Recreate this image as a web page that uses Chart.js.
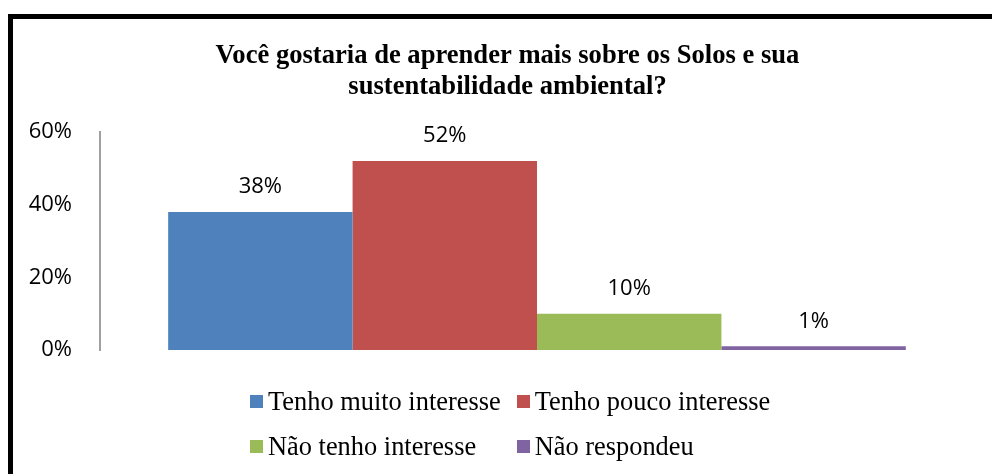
<!DOCTYPE html>
<html>
<head>
<meta charset="utf-8">
<script src="https://cdn.jsdelivr.net/npm/chart.js@4.4.1/dist/chart.umd.min.js"></script>
<style>
  html, body { margin: 0; padding: 0; background: #fff; overflow: hidden; width: 992px; height: 474px; }
  #frame { position: absolute; left: 8px; top: 14px; width: 1000px; height: 480px; border: 5px solid #000; box-sizing: border-box; }
  #wrap { position: absolute; left: 13px; top: 19px; width: 989px; height: 455px; }
  #legend { position: absolute; left: 250px; top: 386px; display: grid; grid-template-columns: auto auto; column-gap: 16px; row-gap: 15px;
            font-family: "Liberation Serif", "Times New Roman", serif; font-size: 26.4px; line-height: 30px; color: #000; }
  #legend .item { display: flex; align-items: center; white-space: nowrap; }
  #legend .box { width: 13px; height: 13px; margin-right: 5px; }
</style>
</head>
<body>
<div id="frame"></div>
<div id="wrap"><canvas id="chart"></canvas></div>
<div id="legend"></div>
<script>
const categories = [''];
const seriesNames = ['Tenho muito interesse', 'Tenho pouco interesse', 'Não tenho interesse', 'Não respondeu'];
const seriesValues = [38, 52, 10, 1];
const seriesColors = ['#4F81BD', '#C0504D', '#9BBB59', '#8064A2'];
const yTicks = [0, 20, 40, 60];

const tickFont = '22px "Open Sans", sans-serif';

// widest tick label, so the mirrored labels can sit right-aligned left of the axis
const measure = document.createElement('canvas').getContext('2d');
measure.font = tickFont;
const widest = Math.max(...yTicks.map(v => measure.measureText(v + '%').width));

const barLabels = {
    id: 'barLabels',
    afterDatasetsDraw(chart) {
        const ctx = chart.ctx;
        ctx.save();
        ctx.font = tickFont;
        ctx.fillStyle = '#000';
        ctx.textAlign = 'center';
        ctx.textBaseline = 'middle';
        chart.data.datasets.forEach((ds, i) => {
            const bar = chart.getDatasetMeta(i).data[0];
            ctx.fillText(ds.data[0] + '%', bar.x, bar.y - 25);
        });
        ctx.restore();
    }
};

const ctx = document.getElementById('chart').getContext('2d');
const chart = new Chart(ctx, {
    type: 'bar',
    data: {
        labels: categories,
        datasets: seriesNames.map((name, i) => ({
            label: name,
            data: [seriesValues[i]],
            backgroundColor: seriesColors[i],
            barPercentage: 1,
            categoryPercentage: 0.844
        }))
    },
    options: {
        responsive: true,
        maintainAspectRatio: false,
        animation: false,
        layout: { padding: { left: 28, right: 28, top: 0, bottom: 124 } },
        plugins: {
            legend: { display: false },
            tooltip: { enabled: false },
            title: {
                display: true,
                text: ['Você gostaria de aprender mais sobre os Solos e sua', 'sustentabilidade ambiental?'],
                color: '#000',
                font: { family: '"Liberation Serif", "Times New Roman", serif', size: 26.6, weight: 'bold', lineHeight: 1.165 },
                padding: { top: 22, bottom: 29 }
            }
        },
        scales: {
            x: { display: false },
            y: {
                min: 0,
                max: 60,
                afterFit: scale => { scale.width = 59; },
                afterBuildTicks: scale => { scale.ticks = yTicks.map(v => ({ value: v })); },
                grid: { display: false },
                border: { display: true, color: '#A0A0A0', width: 2 },
                ticks: {
                    mirror: true,
                    crossAlign: 'far',
                    padding: -28 - widest,
                    color: '#000',
                    font: { family: '"Open Sans", sans-serif', size: 22 },
                    callback: v => v + '%'
                }
            }
        }
    },
    plugins: [barLabels]
});

// legend in a 2x2 grid, built from the datasets
const legendEl = document.getElementById('legend');
chart.data.datasets.forEach(ds => {
    const item = document.createElement('div');
    item.className = 'item';
    item.innerHTML = '<span class="box" style="background:' + ds.backgroundColor + '"></span><span>' + ds.label + '</span>';
    legendEl.appendChild(item);
});
</script>
</body>
</html>
